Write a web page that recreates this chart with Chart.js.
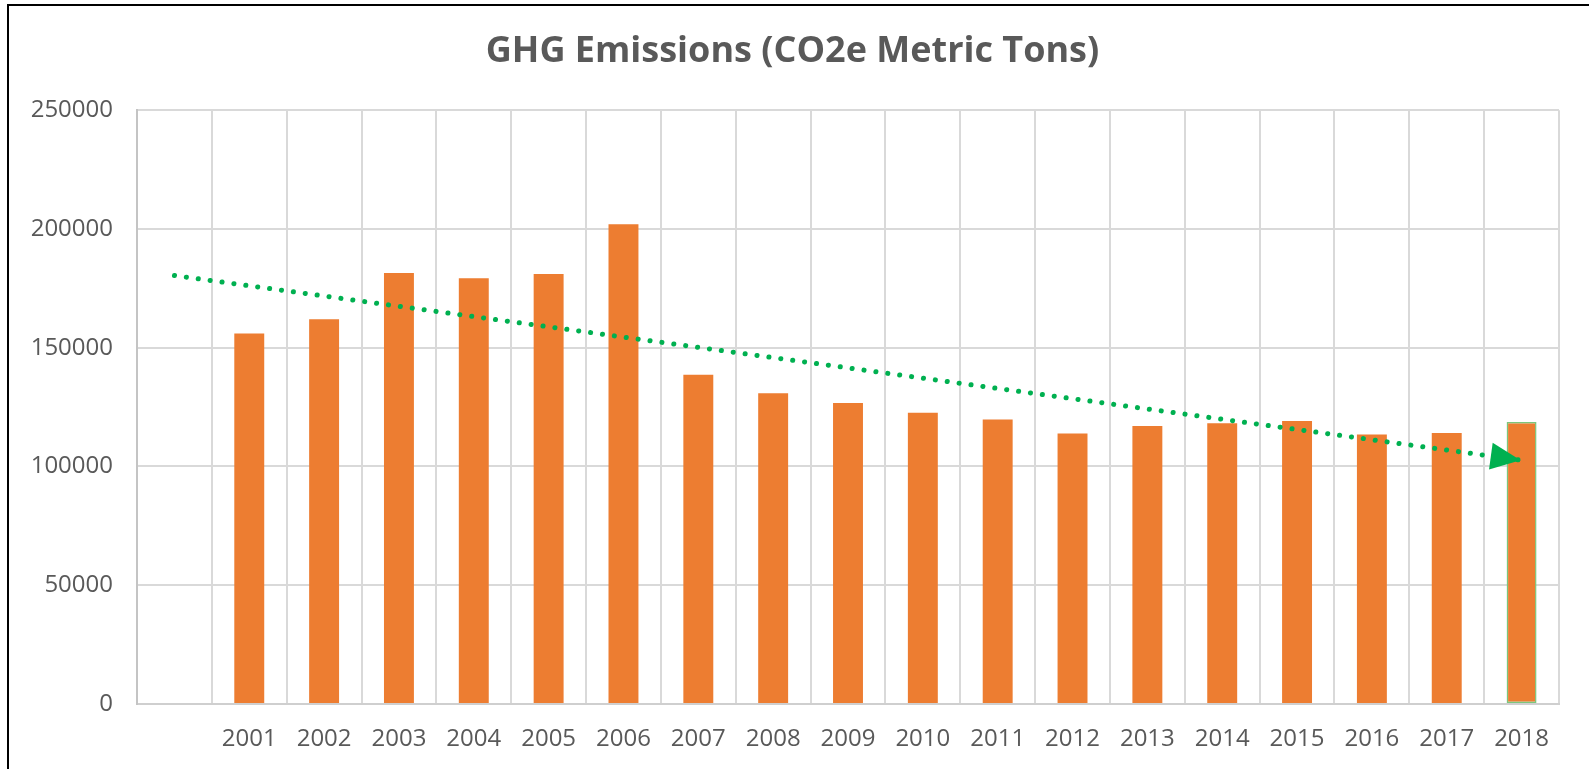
<!DOCTYPE html>
<html>
<head>
<meta charset="utf-8">
<title>GHG Emissions</title>
<script src="https://cdn.jsdelivr.net/npm/chart.js@4.4.1/dist/chart.umd.min.js"></script>
<style>
  html, body { margin: 0; padding: 0; background: #fff; overflow: hidden; }
  #wrap { position: relative; width: 1589px; height: 769px; }
  #frame {
    position: absolute; left: 7px; top: 4px; width: 2000px; height: 2000px;
    border-left: 2.5px solid #000; border-top: 2.5px solid #000;
    pointer-events: none;
  }
</style>
</head>
<body>
<div id="wrap">
  <canvas id="canvas" width="1589" height="769"></canvas>
  <div id="frame"></div>
</div>
<script>
// categories (first slot is empty in the original sheet)
var years = ['', '2001', '2002', '2003', '2004', '2005', '2006', '2007', '2008', '2009',
             '2010', '2011', '2012', '2013', '2014', '2015', '2016', '2017', '2018'];

// CO2e metric tons
var emissions = [null, 156000, 162000, 181500, 179200, 181000, 202000, 138600, 130800, 126700,
                 122600, 119800, 113900, 117000, 118200, 119100, 113500, 114100, 118700];

// dotted trend arrow: start and end values only
var trendStart = 180400;
var trendEnd = 102600;
var trend = years.map(function (y, i) {
    if (i === 0) return trendStart;
    if (i === years.length - 1) return trendEnd;
    return null;
});

var yTicks = [0, 50000, 100000, 150000, 200000, 250000];

var grey = '#595959';
var orange = '#ED7D31';
var green = '#00B050';

// arrow head at the end of the trend line
var arrowHead = {
    id: 'arrowHead',
    afterDatasetsDraw: function (chart) {
        var pts = chart.getDatasetMeta(0).data;
        var a = pts[0], b = pts[pts.length - 1];
        var ang = Math.atan2(b.y - a.y, b.x - a.x);
        var L = 30, W = 13.5;
        var tx = b.x - 1, ty = b.y;
        var bx = tx - L * Math.cos(ang), by = ty - L * Math.sin(ang);
        var ctx = chart.ctx;
        ctx.save();
        ctx.fillStyle = green;
        ctx.beginPath();
        ctx.moveTo(tx, ty);
        ctx.lineTo(bx - W * Math.sin(ang), by + W * Math.cos(ang));
        ctx.lineTo(bx + W * Math.sin(ang), by - W * Math.cos(ang));
        ctx.closePath();
        ctx.fill();
        ctx.restore();
    }
};

var borderW = emissions.map(function (v, i) { return i === emissions.length - 1 ? 1.5 : 0; });
var borderC = emissions.map(function (v, i) { return i === emissions.length - 1 ? '#7CC67C' : orange; });

new Chart(document.getElementById('canvas'), {
    type: 'bar',
    data: {
        labels: years,
        datasets: [{
            type: 'line',
            data: trend,
            spanGaps: true,
            borderColor: green,
            borderWidth: 5,
            borderDash: [0.1, 11.9],
            borderCapStyle: 'round',
            pointRadius: 0,
            fill: false,
            order: 0
        }, {
            type: 'bar',
            data: emissions,
            backgroundColor: orange,
            borderColor: borderC,
            borderWidth: borderW,
            borderSkipped: false,
            barPercentage: 0.4,
            categoryPercentage: 1.0,
            order: 1
        }]
    },
    plugins: [arrowHead],
    options: {
        responsive: false,
        animation: false,
        layout: { padding: { top: 0, left: 26, right: 30, bottom: 0 } },
        plugins: {
            legend: { display: false },
            tooltip: { enabled: false },
            title: {
                display: true,
                text: 'GHG Emissions (CO2e Metric Tons)',
                color: grey,
                font: { family: '"Open Sans", sans-serif', size: 36, weight: 'bold', lineHeight: 1.2 },
                padding: { top: 30, bottom: 37 }
            }
        },
        scales: {
            x: {
                offset: true,
                grid: { offset: true, color: '#D9D9D9', lineWidth: 2, drawTicks: false },
                border: { color: '#CFCFCF', width: 2 },
                ticks: {
                    color: grey,
                    padding: 21,
                    maxRotation: 0,
                    autoSkip: false,
                    font: { family: '"Open Sans", sans-serif', size: 24 }
                },
                afterFit: function (s) { s.height = 65; }
            },
            y: {
                min: 0,
                max: 250000,
                afterBuildTicks: function (s) {
                    s.ticks = yTicks.map(function (v) { return { value: v }; });
                },
                grid: { color: '#D9D9D9', lineWidth: 2, drawTicks: false },
                border: { color: '#C4C4C4', width: 2 },
                ticks: {
                    color: grey,
                    padding: 24,
                    font: { family: '"Open Sans", sans-serif', size: 24 },
                    callback: function (v) { return String(v); }
                },
                afterFit: function (s) { s.width = 111; }
            }
        }
    }
});
</script>
</body>
</html>
